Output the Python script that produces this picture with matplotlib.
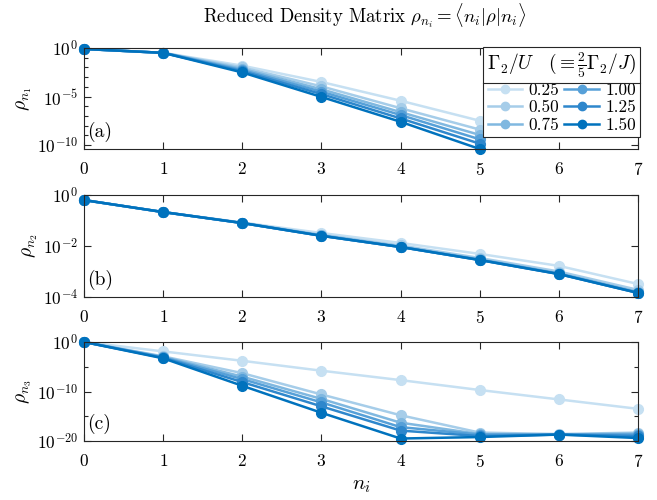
import matplotlib
matplotlib.use('Agg')
import matplotlib.pyplot as plt
import numpy as np
from matplotlib.lines import Line2D
from matplotlib.ticker import FixedLocator, LogFormatterMathtext, NullFormatter

plt.rcParams['font.family'] = 'serif'
plt.rcParams['font.serif'] = ['cmr10']
plt.rcParams['mathtext.fontset'] = 'cm'
plt.rcParams['axes.unicode_minus'] = False
plt.rcParams['axes.formatter.use_mathtext'] = True

n = [0, 1, 2, 3, 4, 5, 6, 7]
gammas = ['0.25', '0.50', '0.75', '1.00', '1.25', '1.50']
colors = ['#c6e0f2', '#a6cde9', '#80b8e0', '#56a0d8', '#2e87cc', '#0072bd']

# log10 of rho (panel a has no points beyond n=5)
log_a = [
    [-0.1, -0.5, -1.82, -3.5, -5.43, -7.49],
    [-0.1, -0.5, -2.0, -3.95, -6.2, -8.4],
    [-0.1, -0.5, -2.15, -4.25, -6.6, -8.95],
    [-0.1, -0.5, -2.28, -4.5, -6.9, -9.4],
    [-0.1, -0.5, -2.4, -4.75, -7.25, -9.85],
    [-0.1, -0.5, -2.52, -5.04, -7.6, -10.4],
]
log_b = [
    [-0.2, -0.67, -1.08, -1.49, -1.88, -2.31, -2.78, -3.49],
    [-0.2, -0.67, -1.09, -1.56, -1.98, -2.47, -3.0, -3.72],
    [-0.2, -0.67, -1.1, -1.58, -2.02, -2.52, -3.07, -3.8],
    [-0.2, -0.67, -1.1, -1.6, -2.04, -2.54, -3.09, -3.83],
    [-0.2, -0.67, -1.1, -1.6, -2.04, -2.55, -3.1, -3.84],
    [-0.2, -0.67, -1.1, -1.6, -2.04, -2.55, -3.1, -3.84],
]
log_c = [
    [0.0, -1.9, -3.8, -5.8, -7.7, -9.7, -11.6, -13.5],
    [0.0, -2.9, -6.3, -10.6, -14.8, -18.3, -18.6, -18.3],
    [0.0, -3.0, -7.0, -11.5, -16.3, -18.6, -18.7, -18.5],
    [0.0, -3.1, -7.5, -12.2, -17.2, -18.7, -18.7, -18.7],
    [0.0, -3.2, -8.1, -13.0, -17.9, -19.0, -18.7, -19.0],
    [0.0, -3.3, -8.85, -14.3, -19.5, -19.2, -18.7, -19.4],
]

fig = plt.figure(figsize=(6.57, 5.0), dpi=100)
left, right = 0.128, 0.971
ax_a = fig.add_axes([left, 0.702, right - left, 0.904 - 0.702])
ax_b = fig.add_axes([left, 0.406, right - left, 0.610 - 0.406])
ax_c = fig.add_axes([left, 0.118, right - left, 0.316 - 0.118])

panels = [
    (ax_a, log_a, (10 ** -10.4, 1e0), [0, -5, -10], list(range(-10, 0)), r'$\rho_{n_1}$', '(a)'),
    (ax_b, log_b, (1e-4, 1e0), [0, -2, -4], None, r'$\rho_{n_2}$', '(b)'),
    (ax_c, log_c, (1e-20, 1e0), [0, -10, -20], [-5, -15], r'$\rho_{n_3}$', '(c)'),
]

for ax, data, ylim, majors, minors, ylab, tag in panels:
    for k, vals in enumerate(data):
        x = n[:len(vals)]
        ax.plot(x, 10.0 ** np.array(vals), color=colors[k], marker='o',
                markersize=7, linewidth=1.8, label=gammas[k], clip_on=False)
    ax.set_yscale('log')
    ax.set_xlim(0, 7)
    ax.set_ylim(*ylim)
    ax.set_xticks(n)
    ax.set_yticks([10.0 ** m for m in majors])
    ax.yaxis.set_major_formatter(LogFormatterMathtext())
    if minors is None:
        ax.yaxis.set_minor_locator(matplotlib.ticker.LogLocator(subs=np.arange(1, 10)))
    else:
        ax.yaxis.set_minor_locator(FixedLocator([10.0 ** m for m in minors]))
    ax.yaxis.set_minor_formatter(NullFormatter())
    ax.tick_params(which='both', direction='in', top=True, right=True,
                   labelsize=12.5, width=0.8, color='#262626')
    ax.tick_params(axis='x', pad=8.5)
    ax.tick_params(axis='y', pad=4.5)
    ax.tick_params(which='major', length=5)
    ax.tick_params(which='minor', length=3)
    for s in ax.spines.values():
        s.set_linewidth(0.8)
        s.set_color('#262626')
    ax.set_ylabel(ylab, fontsize=14, labelpad=2)
    ax.text(0.006, 0.17, tag, transform=ax.transAxes, fontsize=14,
            va='center', ha='left')

ax_c.set_xlabel(r'$n_i$', fontsize=15, labelpad=5)
fig.text(0.555, 0.968, r'Reduced Density Matrix $\rho_{n_i} = \langle n_i|\rho|n_i\rangle$',
         ha='center', va='center', fontsize=13.5)

handles = [Line2D([], [], color=c, marker='o', markersize=6, linewidth=1.8) for c in colors]
leg = ax_a.legend(handles, gammas, ncol=2, loc='upper right',
                  bbox_to_anchor=(1.004, 1.01), borderaxespad=0,
                  title=r'$\Gamma_2/U\ \ \ (\equiv \frac{2}{5}\Gamma_2/J)$',
                  title_fontsize=14, fontsize=12.5, fancybox=False,
                  edgecolor='#262626', framealpha=1, handlelength=2.0,
                  handletextpad=0.35, columnspacing=0.3, labelspacing=0.12,
                  borderpad=0.22)
leg.get_frame().set_linewidth(0.8)

fig.canvas.draw()
fb = leg.get_frame().get_window_extent()
tb = leg.get_title().get_window_extent()
ysep = tb.y0 - 3
inv = fig.transFigure.inverted()
(x0, y0), (x1, _) = inv.transform([(fb.x0, ysep), (fb.x1, ysep)])
fig.add_artist(Line2D([x0, x1], [y0, y0], color='#262626', linewidth=0.8,
                      transform=fig.transFigure, zorder=10))

fig.savefig('out.png', dpi=100)
